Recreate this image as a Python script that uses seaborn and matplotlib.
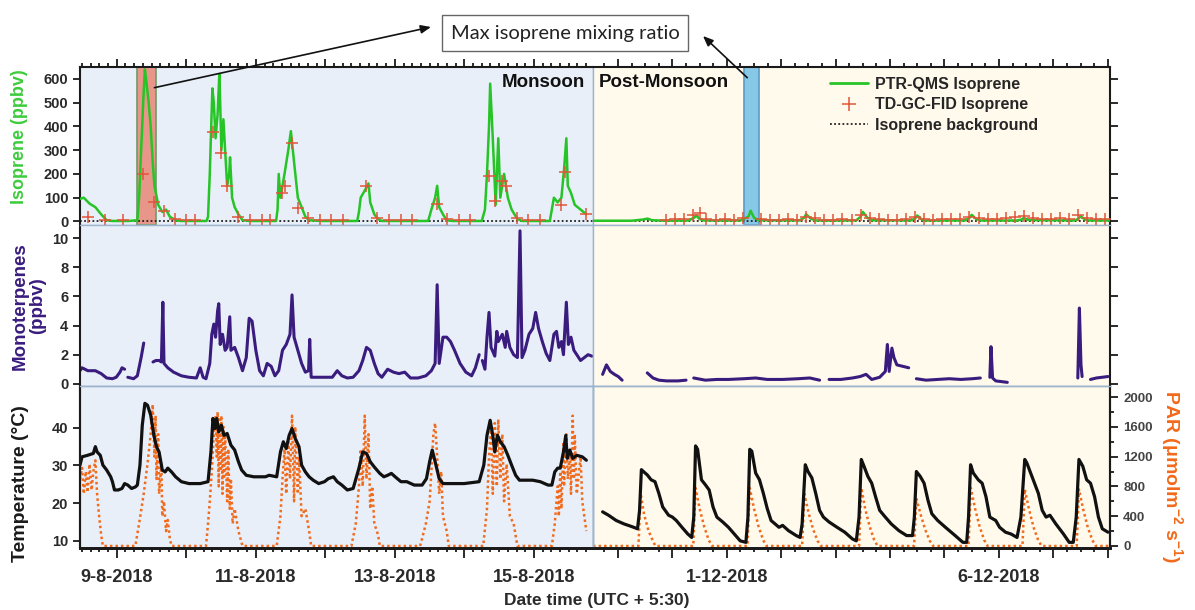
import numpy as np
import pandas as pd
import matplotlib
matplotlib.use("Agg")
import matplotlib.pyplot as plt
import matplotlib.dates as mdates
from matplotlib.ticker import MultipleLocator, FuncFormatter, NullFormatter
from matplotlib.lines import Line2D
import seaborn as sns

sns.set_style("ticks")
plt.rcParams["font.family"] = ["Liberation Sans", "DejaVu Sans"]
plt.rcParams["font.weight"] = "bold"
plt.rcParams["mathtext.default"] = "regular"

# ---------------------------------------------------------------------------
# Readings: (hours since the period start, value)
# ---------------------------------------------------------------------------
MONSOON_START = pd.Timestamp("2018-08-08 00:00")
POST_START = pd.Timestamp("2018-11-28 00:00")
MONSOON_SPAN_H = (11.3, 188.4)
POST_SPAN_H = (12.96, 241.0)

# PTR-QMS isoprene, monsoon (ppbv)
iso_ptr_monsoon = [
    (11.3, 95), (12.6, 100), (14.6, 75), (16.6, 60), (18.6, 30), (20.5, 5), (22.5, 2), (28, 2),
    (31.1, 5), (31.7, 100), (32.4, 300), (33.3, 550), (33.7, 640), (34.1, 600), (35.0, 500),
    (35.7, 400), (36.4, 250), (37.0, 150), (38.3, 70), (39.7, 40), (41.0, 50), (42.3, 20),
    (44.3, 5), (46, 2), (55, 2), (55.5, 20), (56.1, 200), (57.0, 560), (57.5, 500), (58.1, 350),
    (58.8, 450), (59.4, 620), (59.7, 500), (60.1, 300), (60.8, 430), (61.4, 300), (62.1, 150),
    (62.8, 200), (63.1, 270), (63.8, 100), (64.7, 60), (66.0, 30), (67.4, 5), (70, 2), (79.0, 2),
    (79.5, 50), (79.9, 200), (80.5, 100), (81.2, 150), (81.9, 200), (83.2, 300), (84.1, 380),
    (85.2, 250), (86.5, 100), (87.8, 60), (89.1, 20), (90.4, 5), (95, 2), (107, 2), (107.6, 40),
    (108.2, 100), (109.6, 130), (110.9, 160), (111.5, 80), (112.9, 30), (114.2, 10), (115.5, 2),
    (131.5, 2), (132.6, 50), (133.9, 100), (134.6, 150), (135.3, 60), (136.6, 30), (137.9, 5),
    (140, 2), (150.0, 2), (151.1, 50), (151.8, 200), (152.5, 400), (152.9, 580), (153.8, 350),
    (154.8, 70), (155.7, 350), (156.4, 100), (157.7, 200), (159.0, 100), (160.3, 50),
    (162.3, 10), (164, 2), (173.5, 2), (174.9, 100), (176.2, 80), (177.5, 100), (178.4, 220),
    (179.2, 350), (179.7, 150), (180.8, 120), (182.1, 70), (184.1, 50), (186.1, 30),
]

# TD-GC-FID isoprene samples, monsoon (ppbv)
iso_gc_monsoon = [
    (13.9, 18), (20, 8), (26, 6), (33.1, 200), (37.0, 80), (40.3, 45), (44, 10), (48, 6),
    (51, 5), (57.2, 375), (60.1, 290), (62.1, 150), (66, 20), (70, 8), (74, 6), (77, 5),
    (80.9, 120), (82.1, 150), (84.5, 330), (86.5, 55), (90, 15), (94, 6), (98, 5), (102, 6),
    (110.2, 150), (114, 15), (118, 6), (122, 5), (126, 6), (134.6, 75), (138, 10), (142, 6),
    (146, 5), (152.5, 190), (154.5, 85), (157.1, 170), (158.4, 150), (162, 15), (166, 8),
    (170, 6), (177.5, 70), (178.8, 210), (186, 30),
]

# PTR-QMS isoprene, post-monsoon (ppbv)
iso_ptr_post = [
    (13, 3), (30, 3), (35, 8), (37, 12), (39, 5), (45, 3), (55, 4), (57.5, 15), (58.5, 25),
    (60, 10), (62, 4), (78, 4), (81.5, 20), (82.5, 45), (84, 15), (86, 5), (104, 4), (106, 15),
    (107, 30), (109, 12), (111, 4), (129, 4), (131, 20), (132, 40), (134, 15), (136, 5),
    (153, 4), (155, 12), (156, 25), (158, 8), (160, 4), (177, 4), (179, 15), (180, 28),
    (182, 10), (184, 4), (200, 4), (202, 8), (203, 15), (205, 6), (225, 4), (227, 10),
    (228, 22), (230, 8), (232, 4), (241, 4),
]

# TD-GC-FID isoprene samples, post-monsoon (ppbv)
iso_gc_post = [
    (45, 8), (49, 12), (53, 10), (57, 28), (60, 35), (63, 12), (67, 8), (71, 10), (75, 6),
    (79, 15), (87, 12), (91, 8), (95, 6), (99, 10), (103, 8), (107, 20), (111, 15), (115, 8),
    (119, 6), (123, 10), (127, 8), (131, 25), (135, 15), (139, 10), (143, 8), (147, 6),
    (151, 10), (155, 18), (159, 12), (163, 8), (167, 10), (171, 12), (175, 10), (179, 20),
    (183, 14), (187, 10), (191, 12), (195, 15), (199, 18), (203, 22), (207, 16), (211, 12),
    (215, 10), (219, 14), (223, 12), (227, 25), (231, 16), (235, 10), (239, 12),
]

iso_background = [2.0, 2.0]  # monsoon, post-monsoon (ppbv)

# Monoterpenes (ppbv), broken into continuous runs
mono_monsoon = [
    [(11.3, 0.9), (12.0, 1.1), (14.0, 0.9), (16.6, 0.9), (18.6, 0.7), (20.5, 0.4), (22.5, 0.35),
     (23.8, 0.45), (25.1, 0.8), (25.8, 1.1), (26.7, 1.0)],
    [(27.8, 0.45), (29.8, 0.35), (31.1, 0.55), (32.4, 1.8), (33.3, 2.8)],
    [(36.5, 1.5), (37.5, 1.6), (38.6, 1.6), (39.4, 1.5), (39.9, 5.6), (40.3, 1.4), (41.6, 1.1),
     (43.6, 0.8), (46.3, 0.55), (48.9, 0.45), (51.5, 0.4), (52.8, 1.1), (53.8, 0.45),
     (54.8, 0.35), (56.1, 1.4), (56.8, 3.4), (57.5, 4.1), (58.1, 3.2), (58.8, 5.0), (59.2, 5.5),
     (59.7, 2.7), (60.5, 3.4), (61.4, 2.3), (62.1, 2.5), (63.0, 4.6), (63.4, 2.3), (64.7, 2.5),
     (66.0, 1.8), (67.4, 0.9), (68.7, 1.8), (69.7, 4.5), (70.7, 4.3), (72.0, 2.3), (73.3, 0.9),
     (74.6, 0.55), (75.9, 1.4), (77.3, 1.2), (78.6, 0.55), (79.9, 0.9), (81.2, 2.3),
     (82.5, 2.7), (83.8, 3.4), (84.5, 6.1), (85.2, 3.2), (86.5, 2.3), (87.8, 1.4), (89.1, 0.8),
     (90.2, 0.9), (90.6, 3.05), (91.1, 0.45), (93.1, 0.45), (95.7, 0.45), (98.4, 0.45),
     (100.1, 0.9), (101.7, 0.55), (103.6, 0.4), (105.6, 0.45), (107.6, 0.9), (108.9, 1.6),
     (110.2, 2.5), (111.5, 2.3), (112.9, 1.4), (114.2, 0.7), (115.5, 0.45), (117.5, 1.0),
     (119.5, 0.8), (121.4, 0.7), (123.4, 0.8), (125.4, 0.4), (128.0, 0.4), (130.7, 0.55),
     (132.6, 0.9), (133.9, 1.4), (134.6, 6.8), (135.3, 1.4), (136.6, 3.2), (137.9, 3.2),
     (139.2, 2.9), (140.6, 2.3), (142.5, 1.4), (144.5, 0.8), (146.5, 0.55), (147.8, 1.1),
     (149.1, 2.0)],
    [(150.2, 1.6), (151.1, 1.0), (151.8, 3.2), (152.5, 4.9), (153.2, 2.5), (154.5, 1.9),
     (155.2, 3.6), (155.7, 2.9), (157.1, 3.4), (158.1, 2.5), (158.6, 3.6), (159.7, 2.5),
     (161.0, 2.0), (162.3, 1.8), (163.2, 10.5), (163.9, 1.8), (164.9, 2.3), (166.3, 3.4),
     (167.6, 3.8), (168.6, 4.9), (169.6, 3.8), (170.9, 2.9), (172.2, 2.1), (173.5, 1.6),
     (174.9, 3.4), (175.8, 3.6), (176.6, 2.5), (177.5, 2.9), (178.2, 2.0), (179.2, 5.6),
     (179.9, 2.7), (180.8, 3.2), (181.8, 2.3), (182.8, 2.0), (184.1, 1.6), (185.4, 1.8),
     (186.7, 2.0), (188.0, 1.9)],
]

mono_post = [
    [(17.2, 0.65), (18.9, 1.3), (20.6, 0.85), (22.4, 0.65), (24.1, 0.5), (25.8, 0.25)],
    [(36.9, 0.75), (39.4, 0.4), (42.0, 0.25), (45.4, 0.2), (50.5, 0.2), (54.0, 0.25)],
    [(57.4, 0.4), (62.5, 0.25), (67.6, 0.3), (72.7, 0.3), (79.6, 0.35), (84.7, 0.4), (89.8, 0.3),
     (96.6, 0.3), (103.5, 0.35), (108.6, 0.4), (112.9, 0.25)],
    [(117.1, 0.3), (122.3, 0.3), (127.4, 0.4), (130.8, 0.5), (133.4, 0.65), (135.9, 0.3),
     (139.4, 0.45), (141.9, 0.85), (142.8, 2.7), (143.6, 0.85), (144.8, 2.45), (145.7, 1.8),
     (147.0, 1.3), (149.6, 1.2), (152.2, 1.1)],
    [(155.6, 0.35), (159.9, 0.25), (165.0, 0.3), (170.1, 0.35), (175.2, 0.3), (180.3, 0.35),
     (183.8, 0.4)],
    [(188.0, 0.45), (188.5, 2.55), (189.2, 0.4), (190.6, 0.2), (193.2, 0.15), (195.7, 0.1)],
    [(226.8, 0.4), (227.5, 5.2), (228.2, 1.3), (228.7, 0.5)],
    [(232.4, 0.3), (235.0, 0.4), (237.6, 0.45), (240.1, 0.5)],
]

# Air temperature (deg C)
temp_monsoon = [
    (11.3, 30.1), (12.0, 32.3), (13.9, 32.7), (15.9, 33.2), (16.6, 35.0), (17.2, 33.6),
    (18.3, 32.7), (19.2, 30.1), (20.5, 28.8), (21.9, 27.0), (22.5, 25.7), (23.2, 23.5),
    (24.5, 23.5), (25.8, 23.9), (26.7, 25.2), (27.8, 24.8), (29.1, 23.9), (30.4, 24.3),
    (31.1, 24.8), (32.0, 30.1), (32.8, 40.7), (33.7, 46.5), (34.6, 46.0), (35.7, 43.4),
    (36.8, 38.0), (37.7, 35.0), (38.6, 33.6), (39.7, 28.8), (40.7, 28.3), (41.6, 29.3),
    (42.9, 28.3), (44.3, 27.0), (46.3, 25.7), (48.9, 25.2), (52.8, 25.2), (55.5, 25.7),
    (56.5, 33.6), (57.2, 42.5), (57.9, 39.8), (58.5, 42.5), (59.2, 38.9), (60.1, 40.7),
    (61.0, 38.0), (62.1, 38.5), (63.4, 35.4), (64.7, 34.1), (66.0, 31.0), (67.1, 28.8),
    (68.7, 27.4), (71.3, 27.0), (75.3, 27.0), (76.6, 27.4), (79.2, 27.0), (80.5, 33.6),
    (81.5, 36.3), (82.5, 34.5), (83.5, 38.0), (84.5, 39.8), (85.6, 37.2), (86.9, 35.0),
    (87.8, 30.1), (89.1, 28.3), (90.4, 27.0), (91.8, 26.1), (93.7, 25.2), (95.7, 25.7),
    (97.0, 26.5), (98.8, 27.0), (100.1, 25.7), (101.7, 24.8), (103.6, 23.5), (105.6, 23.9),
    (107.6, 29.3), (108.9, 33.6), (110.2, 33.2), (111.5, 31.0), (112.9, 29.6), (114.8, 27.9),
    (116.2, 27.0), (117.5, 27.4), (118.8, 27.9), (120.1, 27.0), (122.1, 25.7), (124.1, 25.7),
    (126.7, 24.8), (129.4, 24.8), (130.9, 26.5), (132.0, 31.0), (132.9, 34.1), (133.9, 31.0),
    (135.3, 26.5), (136.6, 25.2), (139.9, 25.2), (143.9, 25.2), (149.1, 25.7), (150.7, 30.1),
    (151.8, 38.0), (152.9, 42.0), (153.8, 38.0), (154.5, 33.6), (155.4, 38.0), (156.4, 36.3),
    (157.7, 35.0), (159.0, 32.7), (160.3, 30.1), (161.7, 27.4), (163.0, 26.1), (164.9, 26.1),
    (167.6, 26.1), (170.2, 25.7), (172.9, 24.8), (174.2, 24.8), (175.2, 28.3), (176.2, 29.3),
    (177.1, 29.3), (178.2, 33.6), (179.0, 38.0), (179.5, 31.9), (180.4, 34.1), (181.4, 31.9),
    (182.8, 32.7), (184.7, 32.3), (186.1, 31.4),
]

temp_post = [
    (17.2, 17.7), (19.8, 16.8), (23.2, 15.4), (26.6, 14.5), (30.0, 13.8), (32.6, 13.2),
    (33.5, 18.1), (34.3, 28.9), (35.2, 28.4), (36.9, 27.5), (38.6, 26.2), (40.3, 25.7),
    (42.0, 22.6), (43.7, 19.0), (46.3, 16.8), (48.0, 16.3), (49.7, 15.4), (52.2, 13.6),
    (54.8, 11.8), (56.5, 10.9), (57.4, 16.3), (58.2, 35.2), (59.1, 34.3), (60.8, 26.2),
    (62.5, 24.9), (64.2, 23.5), (65.9, 19.0), (67.6, 16.3), (70.2, 15.0), (72.7, 13.6),
    (75.3, 11.8), (77.9, 10.0), (80.4, 9.6), (81.3, 16.3), (82.1, 34.3), (83.0, 33.8),
    (84.7, 28.0), (86.4, 26.2), (88.1, 22.6), (89.8, 18.6), (91.5, 15.4), (95.0, 13.6),
    (96.6, 14.1), (99.2, 12.7), (102.6, 11.4), (104.3, 10.9), (105.2, 14.5), (106.6, 30.2),
    (107.8, 28.4), (109.5, 26.7), (111.2, 22.6), (112.9, 18.1), (114.6, 16.3), (117.1, 15.0),
    (120.6, 13.6), (124.0, 12.3), (127.4, 10.5), (129.1, 10.0), (130.3, 16.3), (131.3, 31.6),
    (132.5, 29.8), (134.2, 27.1), (135.9, 25.3), (137.6, 21.7), (139.4, 18.1), (141.9, 16.3),
    (144.5, 14.5), (147.9, 12.7), (151.3, 11.4), (153.9, 11.4), (154.7, 16.3), (155.6, 28.4),
    (157.3, 27.1), (159.0, 25.3), (160.7, 20.8), (162.4, 17.2), (165.0, 15.4), (168.4, 13.6),
    (172.7, 11.4), (176.1, 9.6), (177.8, 9.6), (178.6, 16.3), (179.5, 30.2), (180.7, 28.0),
    (182.9, 26.2), (184.6, 25.3), (186.3, 21.7), (188.0, 16.3), (190.6, 15.4), (192.3, 13.6),
    (194.9, 12.3), (197.4, 11.8), (200.0, 10.9), (201.7, 16.3), (203.4, 31.6), (204.3, 30.7),
    (206.0, 28.0), (207.7, 25.3), (209.4, 22.6), (211.1, 18.1), (212.8, 16.3), (214.5, 16.8),
    (217.1, 14.5), (220.5, 11.8), (223.0, 9.6), (224.8, 9.6), (226.1, 16.3), (227.3, 31.6),
    (229.0, 29.8), (230.7, 26.2), (232.4, 25.3), (234.2, 21.7), (235.9, 16.3), (237.6, 13.2),
    (240.1, 12.3),
]

# Photosynthetically active radiation (umol m-2 s-1)
par_monsoon = [
    (11.3, 900), (12.0, 1050), (12.6, 700), (13.3, 1000), (13.9, 720), (14.6, 1100),
    (15.3, 750), (15.9, 1000), (16.6, 1150), (17.2, 700), (17.9, 400), (18.6, 150), (19.2, 0),
    (30.4, 0), (31.7, 300), (33.3, 700), (34.6, 1100), (35.7, 1500), (36.4, 1900), (37.0, 1200),
    (37.4, 1750), (37.7, 900), (38.3, 1500), (38.6, 700), (39.4, 1100), (39.7, 400),
    (40.3, 600), (41.0, 200), (41.6, 350), (42.3, 100), (42.9, 0),
    (54.8, 0), (55.5, 300), (56.1, 600), (56.8, 1000), (57.5, 1500), (58.1, 1750), (58.5, 1200),
    (58.8, 1800), (59.2, 800), (59.4, 1700), (59.7, 1000), (60.1, 1750), (60.5, 700),
    (60.8, 1600), (61.0, 900), (61.4, 1500), (62.1, 600), (62.5, 1300), (63.0, 500),
    (63.4, 900), (64.0, 300), (64.7, 500), (66.0, 200), (67.4, 0),
    (79.2, 0), (80.5, 400), (81.2, 900), (81.9, 1300), (82.5, 700), (83.2, 1400), (83.8, 900),
    (84.5, 1750), (85.2, 600), (85.6, 1600), (86.5, 700), (86.9, 1200), (87.8, 400),
    (89.1, 500), (90.4, 200), (91.1, 0),
    (105.0, 0), (106.5, 300), (107.6, 800), (108.2, 1300), (108.9, 800), (109.6, 1750),
    (110.2, 900), (110.9, 1500), (111.5, 500), (112.2, 800), (112.9, 300), (114.2, 150),
    (114.8, 0),
    (128.7, 0), (129.4, 100), (130.7, 300), (132.0, 600), (132.6, 1000), (133.3, 1500),
    (133.9, 1650), (134.6, 1200), (135.3, 700), (136.0, 1000), (136.6, 400), (137.9, 200),
    (138.6, 0),
    (150.5, 0), (151.8, 500), (152.5, 1200), (153.2, 1600), (153.8, 700), (154.5, 1650),
    (155.2, 800), (155.7, 1700), (156.4, 900), (157.1, 1500), (157.7, 600), (158.6, 1100),
    (159.7, 400), (161.0, 300), (162.3, 0),
    (174.2, 0), (175.2, 300), (176.2, 800), (176.6, 400), (177.1, 1000), (177.5, 500),
    (178.2, 1400), (178.4, 800), (179.2, 1500), (179.7, 900), (180.4, 1300), (180.8, 700),
    (181.4, 1750), (181.8, 900), (182.1, 1500), (182.8, 700), (184.1, 1200), (184.7, 600),
    (185.4, 400), (186.1, 200),
]

par_post = [
    (13.0, 0), (33.0, 0), (34.0, 700), (35.5, 420), (37.5, 200), (39.5, 60), (40.5, 0),
    (57.2, 0), (58.2, 780), (60.0, 500), (62.0, 260), (64.0, 80), (65.5, 0),
    (81.1, 0), (82.1, 780), (84.0, 500), (86.0, 260), (88.0, 80), (89.5, 0),
    (105.2, 0), (106.2, 700), (108.0, 450), (110.0, 230), (112.0, 70), (113.5, 0),
    (130.3, 0), (131.3, 780), (133.0, 500), (135.0, 260), (137.0, 80), (138.5, 0),
    (154.6, 0), (155.6, 640), (157.5, 420), (159.5, 220), (161.5, 70), (163.0, 0),
    (178.6, 0), (179.6, 780), (181.5, 500), (183.5, 260), (185.5, 80), (187.0, 0),
    (202.4, 0), (203.4, 760), (205.3, 490), (207.3, 250), (209.3, 80), (210.8, 0),
    (226.3, 0), (227.3, 760), (229.2, 490), (231.2, 250), (233.2, 80), (234.7, 0),
    (241.0, 0),
]

# Shaded windows holding the maximum isoprene of each period (hours)
max_window_monsoon = (31.1, 37.7)
max_window_post = (79.6, 86.4)

# ---------------------------------------------------------------------------
C_GREEN = "#26c426"
C_GC = "#e2553a"
C_PURPLE = "#3a1c7e"
C_ORANGE = "#f26a1b"
C_BG_MON = "#e8eff9"
C_BG_POST = "#fffaec"
C_EDGE = "#9db5cf"


def frame(base, pairs, seg=0):
    h = [p[0] for p in pairs]
    v = [p[1] for p in pairs]
    return pd.DataFrame({"time": base + pd.to_timedelta(h, unit="h"), "value": v, "seg": seg})


def seg_frame(base, runs):
    return pd.concat([frame(base, r, i) for i, r in enumerate(runs)], ignore_index=True)


def hours(base, h):
    return base + pd.Timedelta(hours=h)


fig = plt.figure(figsize=(11.95, 6.10), dpi=100)
W, H = 1195.0, 610.0
cols = {"mon": (80 / W, 513 / W), "post": (593 / W, 517 / W)}
rows = {"top": (1 - 225 / H, 158 / H), "mid": (1 - 386 / H, 161 / H), "bot": (1 - 548 / H, 162 / H)}

axes = {}
for c, (x0, w) in cols.items():
    for r, (y0, h) in rows.items():
        axes[(c, r)] = fig.add_axes([x0, y0, w, h])

TICK_KW = dict(colors="#1a1a1a", width=1.3)


def style_axes(ax, col, row):
    bg = C_BG_MON if col == "mon" else C_BG_POST
    ax.set_facecolor(bg)
    for s in ax.spines.values():
        s.set_color(C_EDGE)
        s.set_linewidth(1.0)
    if col == "mon":
        ax.spines["left"].set_color("#1a1a1a")
        ax.spines["left"].set_linewidth(1.5)
    else:
        ax.spines["right"].set_color("#1a1a1a")
        ax.spines["right"].set_linewidth(1.5)
    if row == "top":
        ax.spines["top"].set_color("#1a1a1a")
        ax.spines["top"].set_linewidth(1.5)
    if row == "bot":
        ax.spines["bottom"].set_color("#1a1a1a")
        ax.spines["bottom"].set_linewidth(2.0)
    ax.set_xlabel("")
    ax.set_ylabel("")


def date_axis(ax, col, row):
    base, span = (MONSOON_START, MONSOON_SPAN_H) if col == "mon" else (POST_START, POST_SPAN_H)
    ax.set_xlim(hours(base, span[0]), hours(base, span[1]))
    if row == "mid":
        ax.tick_params(axis="x", which="both", bottom=False, top=False,
                       labelbottom=False, labeltop=False)
        return
    ax.xaxis.set_major_locator(mdates.DayLocator())
    step = 3 if col == "mon" else 6
    ax.xaxis.set_minor_locator(mdates.HourLocator(byhour=range(0, 24, step)))
    if row == "top":
        ax.tick_params(axis="x", which="both", bottom=False, top=True,
                       labelbottom=False, labeltop=False, direction="out", **TICK_KW)
        ax.tick_params(axis="x", which="major", length=6)
        ax.tick_params(axis="x", which="minor", length=3)
    else:
        shown = {(8, 9), (8, 11), (8, 13), (8, 15)} if col == "mon" else {(12, 1), (12, 6)}

        def fmt(x, pos, shown=shown):
            d = mdates.num2date(x)
            return f"{d.day}-{d.month}-{d.year}" if (d.month, d.day) in shown else ""

        ax.xaxis.set_major_formatter(FuncFormatter(fmt))
        ax.xaxis.set_minor_formatter(NullFormatter())
        ax.tick_params(axis="x", which="both", bottom=True, top=False, direction="out", **TICK_KW)
        ax.tick_params(axis="x", which="major", length=7, pad=8, labelsize=13,
                       labelcolor="#2a2a2a")
        ax.tick_params(axis="x", which="minor", length=3)


def y_axis(ax, col, lim, step, labels=True):
    ax.set_ylim(*lim)
    ax.yaxis.set_major_locator(MultipleLocator(step))
    if col == "mon":
        ax.tick_params(axis="y", left=True, right=False, labelleft=labels, labelright=False,
                       direction="out", length=5, labelsize=10.5, labelcolor="#2a2a2a",
                       **TICK_KW)
    else:
        ax.tick_params(axis="y", left=False, right=True, labelleft=False, labelright=False,
                       direction="out", length=6, **TICK_KW)


# --- isoprene row --------------------------------------------------------
for col, base, ptr, gc, bg, win, bgc in [
    ("mon", MONSOON_START, iso_ptr_monsoon, iso_gc_monsoon, iso_background[0],
     max_window_monsoon, ("#e9968a", "#6f9a6a")),
    ("post", POST_START, iso_ptr_post, iso_gc_post, iso_background[1],
     max_window_post, ("#86c8e6", "#5a9cc4")),
]:
    ax = axes[(col, "top")]
    ax.axvspan(hours(base, win[0]), hours(base, win[1]), facecolor=bgc[0], edgecolor=bgc[1],
               lw=1.2, zorder=1)
    ax.axhline(bg, color="#222222", lw=1.3, ls=(0, (1, 1.3)), zorder=2)
    sns.lineplot(data=frame(base, ptr), x="time", y="value", color=C_GREEN, lw=1.8,
                 estimator=None, ax=ax, zorder=3)
    sns.scatterplot(data=frame(base, gc), x="time", y="value", marker="+", s=70,
                    color=C_GC, linewidth=1.1, ax=ax, zorder=4)
    style_axes(ax, col, "top")
    date_axis(ax, col, "top")
    y_axis(ax, col, (-15, 650), 100)

# --- monoterpene row -----------------------------------------------------
for col, base, runs in [("mon", MONSOON_START, mono_monsoon), ("post", POST_START, mono_post)]:
    ax = axes[(col, "mid")]
    sns.lineplot(data=seg_frame(base, runs), x="time", y="value", units="seg",
                 estimator=None, color=C_PURPLE, lw=2.2, ax=ax)
    style_axes(ax, col, "mid")
    date_axis(ax, col, "mid")
    y_axis(ax, col, (-0.15, 10.9), 2)

# --- temperature / PAR row -----------------------------------------------
for col, base, temp, par in [("mon", MONSOON_START, temp_monsoon, par_monsoon),
                             ("post", POST_START, temp_post, par_post)]:
    ax = axes[(col, "bot")]
    axp = ax.twinx()
    ax.set_zorder(axp.get_zorder() + 1)
    ax.patch.set_visible(False)
    axp.patch.set_visible(True)
    sns.lineplot(data=frame(base, par), x="time", y="value", color=C_ORANGE, lw=1.8,
                 ls=(0, (1, 1.2)), estimator=None, ax=axp)
    sns.lineplot(data=frame(base, temp), x="time", y="value", color="#111111", lw=2.3,
                 estimator=None, ax=ax)
    style_axes(axp, col, "bot")
    style_axes(ax, col, "bot")
    date_axis(ax, col, "bot")
    axp.set_xlim(ax.get_xlim())
    ax.set_ylim(8.1, 51.1)
    ax.set_yticks([10, 20, 30, 40])
    axp.set_ylim(-27, 2148)
    axp.xaxis.set_visible(False)
    if col == "mon":
        ax.tick_params(axis="y", left=True, right=False, labelleft=True, direction="out",
                       length=5, labelsize=10.5, labelcolor="#2a2a2a", **TICK_KW)
        axp.tick_params(axis="y", which="both", right=False, left=False,
                        labelright=False, labelleft=False)
    else:
        ax.tick_params(axis="y", left=False, right=False, labelleft=False, labelright=False)
        axp.yaxis.set_major_locator(MultipleLocator(400))
        axp.yaxis.set_minor_locator(MultipleLocator(200))
        axp.tick_params(axis="y", which="both", right=True, labelright=True, direction="out",
                        labelsize=9.5, labelcolor="#444444", **TICK_KW)
        axp.tick_params(axis="y", which="major", length=6)
        axp.tick_params(axis="y", which="minor", length=3)

# --- text ----------------------------------------------------------------
axes[("mon", "top")].text(0.985, 0.905, "Monsoon", transform=axes[("mon", "top")].transAxes,
                          ha="right", va="center", fontsize=13.5, color="#111111")
axes[("post", "top")].text(0.012, 0.905, "Post-Monsoon", transform=axes[("post", "top")].transAxes,
                           ha="left", va="center", fontsize=13.5, color="#111111")

legend_handles = [
    Line2D([], [], color=C_GREEN, lw=2),
    Line2D([], [], color=C_GC, marker="+", ls="none", ms=10, mew=1.1),
    Line2D([], [], color="#222222", lw=1.3, ls=(0, (1, 1.3))),
]
axes[("post", "top")].legend(legend_handles,
                             ["PTR-QMS Isoprene", "TD-GC-FID Isoprene", "Isoprene background"],
                             loc="upper left", bbox_to_anchor=(0.44, 1.0), frameon=False,
                             handlelength=2.4, labelspacing=0.35,
                             handletextpad=0.4, borderaxespad=0.2,
                             prop={"weight": "bold", "size": 11.5})

fig.text(20 / W, 1 - 137 / H, "Isoprene (ppbv)", rotation=90, ha="center", va="center",
         fontsize=13, color="#3dcc3d")
fig.text(29 / W, 1 - 306 / H, "Monoterpenes\n(ppbv)", rotation=90, ha="center", va="center",
         fontsize=13.5, color=C_PURPLE, linespacing=1.05)
fig.text(21 / W, 1 - 484 / H, "Temperature (\u00b0C)", rotation=90, ha="center", va="center",
         fontsize=14, color="#1a1a1a")
fig.text(1172 / W, 1 - 477 / H, "PAR (\u03bcmolm$^{-2}$ s$^{-1}$)", rotation=-90,
         ha="center", va="center", fontsize=14, color=C_ORANGE)
fig.text(597 / W, 1 - 601 / H, "Date time (UTC + 5:30)", ha="center", va="center",
         fontsize=12.5, color="#2a2a2a")

fig.text(565 / W, 1 - 33 / H, "Max isoprene mixing ratio", ha="center", va="center",
         fontsize=14.5, fontweight="normal", family=["Lato", "DejaVu Sans"], color="#222222",
         bbox=dict(boxstyle="square,pad=0.45", fc="white", ec="#666666", lw=1.0))

arrow_kw = dict(arrowstyle="-|>,head_length=0.6,head_width=0.25", color="#111111", lw=1.2,
                shrinkA=0, shrinkB=0)
axes[("mon", "top")].annotate("", xy=(431 / W, 1 - 27 / H), xycoords="figure fraction",
                              xytext=(hours(MONSOON_START, 37.0), 563), textcoords="data",
                              arrowprops=arrow_kw, annotation_clip=False)
axes[("post", "top")].annotate("", xy=(703 / W, 1 - 36 / H), xycoords="figure fraction",
                               xytext=(hours(POST_START, 81.0), 605), textcoords="data",
                               arrowprops=arrow_kw, annotation_clip=False)

fig.savefig("out.png", dpi=100)
